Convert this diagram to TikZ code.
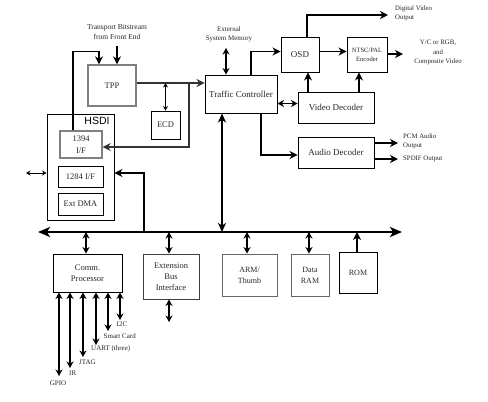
\documentclass[tikz,border=0pt]{standalone}
\usepackage{fontspec}
\setmainfont{Liberation Serif}
\newfontfamily\hsdifont{Liberation Sans}
\usetikzlibrary{arrows.meta}
\begin{document}
\begin{tikzpicture}[x=1pt,y=-1pt,
 sz/.style 2 args={minimum width=#1pt, minimum height=#2pt},
 box/.style={draw, line width=0.9pt, align=center, inner sep=0pt, text=black!85, font=\fontsize{9}{11}\selectfont},
 gbox/.style={box, draw=black!50, line width=1.3pt},
 conn/.style={line width=1.6pt, -{Stealth[length=8pt,width=8pt,inset=2.5pt]}},
 dconn/.style={line width=1.6pt, {Stealth[length=6.5pt,width=7pt,inset=2pt]}-{Stealth[length=6.5pt,width=7pt,inset=2pt]}},
 busline/.style={line width=2.4pt, {Stealth[length=12pt,width=10pt,inset=3pt]}-{Stealth[length=12pt,width=10pt,inset=3pt]}},
 thinarr/.style={line width=0.8pt, {Stealth[length=4.5pt,width=5pt]}-{Stealth[length=4.5pt,width=5pt]}},
 lbl/.style={align=center, inner sep=0pt, text=black!85, font=\fontsize{6.8}{9}\selectfont},
 slbl/.style={align=left, inner sep=0pt, text=black!85, font=\fontsize{7}{8}\selectfont},
]
\useasboundingbox (0,0) rectangle (488,402);

% ---- boxes ----
\node[gbox, sz={48}{41}, font=\fontsize{8.5}{10}\selectfont] (tpp) at (112,85.5) {TPP};
\node[box, sz={29}{28}, font=\fontsize{8.5}{10}\selectfont] (ecd) at (165.5,125) {ECD};
\node[box, sz={67}{106}] (hsdi) at (80.5,167) {};
\node[inner sep=0pt, font=\hsdifont\fontsize{10.5}{12}\selectfont] (hsdil) at (97,121) {HSDI};
\node[gbox, sz={42}{27}, font=\fontsize{8.5}{12}\selectfont] (i1394) at (81,144.5) {1394\\I/F};
\node[box, sz={45}{21}, font=\fontsize{8.5}{10}\selectfont] (i1284) at (80.5,176.5) {1284 I/F};
\node[box, sz={45}{22}, font=\fontsize{8.5}{10}\selectfont] (dma) at (80.5,204) {Ext DMA};
\node[box, sz={72}{38}] (tc) at (241,94) {Traffic Controller};
\node[box, sz={38}{35}] (osd) at (300,54.5) {OSD};
\node[box, sz={40}{35}, font=\fontsize{6.5}{9}\selectfont] (ntsc) at (367,54.5) {NTSC/PAL\\Encoder};
\node[box, sz={76}{31}] (vd) at (336,107.5) {Video Decoder};
\node[box, sz={76}{31}] (ad) at (336,152.5) {Audio Decoder};
\node[box, sz={69}{38}, font=\fontsize{8.5}{11}\selectfont] (comm) at (87.5,273) {Comm.\\Processor};
\node[box, sz={56}{45}, draw=black!75, font=\fontsize{8.5}{11}\selectfont] (eb) at (171,276.5) {Extension\\Bus\\Interface};
\node[box, sz={55}{42}, draw=black!60, font=\fontsize{8}{11}\selectfont] (arm) at (249.5,275) {ARM/\\Thumb};
\node[box, sz={38}{42}, draw=black!60, font=\fontsize{8}{11}\selectfont] (ram) at (310,275) {Data\\RAM};
\node[box, sz={38}{41}, font=\fontsize{8}{10}\selectfont] (rom) at (358,272.5) {ROM};

% ---- labels ----
\node[lbl, font=\fontsize{7.5}{10}\selectfont] (ts) at (117,32) {Transport Bitstream\\from Front End};
\node[lbl, font=\fontsize{7}{9}\selectfont] (em) at (229,34.5) {External\\System Memory};
\node[lbl, anchor=west, align=left] (dvo) at (395,13) {Digital Video\\Output};
\node[lbl, font=\fontsize{6.8}{9.5}\selectfont] (yc) at (438,52.5) {Y/C or RGB,\\and\\Composite Video};
\node[lbl, anchor=west, align=left] (pcm) at (403,141.5) {PCM Audio\\Output};
\node[lbl, anchor=west, align=left] (spdif) at (403,159) {SPDIF Output};

% ---- coordinates ----
\coordinate (busL) at (38,232);
\coordinate (busR) at (402,232);
\coordinate (br) at (189,83);
\coordinate (hl) at (26,173);
\coordinate (bj) at (144,232);
\coordinate (dvend) at (388,15);
\coordinate (ycend) at (403,54);
\coordinate (ebend) at (169,322);

% ---- connectors ----
\draw[busline] (busL) -- (busR);
\draw[conn] (ts.south |- 0,46) -- (ts.south |- tpp.north);
\draw[conn] ([xshift=-8]i1394.north) -- ++(0,-79) -| ([xshift=-13]tpp.north);
\draw[conn, draw=black!80] ([yshift=2.5]tpp.east) -- ([yshift=2.5]tpp.east -| tc.west);
\draw[conn, draw=black!80] (br) |- ([yshift=-2.5]i1394.east);
\draw[thinarr] (ecd.north |- br) -- (ecd.north);
\draw[thinarr] (hl) -- (hl -| hsdi.west);
\draw[conn] (bj) |- (hl -| hsdi.east);
\draw[dconn, line width=1.8pt, {Stealth[length=9pt,width=8pt,inset=2.5pt]}-{Stealth[length=9pt,width=8pt,inset=2.5pt]}] ([xshift=-19]tc.south) -- ([xshift=-19]tc.south |- busL);
\draw[dconn] ([xshift=-3]em.south |- 0,48) -- ([xshift=-3]em.south |- tc.north);
\draw[conn] ([xshift=10]tc.north) |- ([yshift=3]osd.west);
\draw[conn] ([xshift=7]osd.north) |- (dvend);
\draw[conn] ([yshift=3]osd.east) -- ([yshift=3]osd.east -| ntsc.west);
\draw[conn] (ntsc.east |- ycend) -- (ycend);
\draw[conn] ([xshift=-28]vd.north) -- ([xshift=-28]vd.north |- osd.south);
\draw[conn] ([xshift=23]vd.north) -- ([xshift=23]vd.north |- ntsc.south);
\draw[dconn] ([yshift=4]vd.west -| tc.east) -- ([yshift=4]vd.west);
\draw[conn] ([xshift=20]tc.south) |- ([yshift=-2.5]ad.west);
\draw[conn] ([yshift=9.5]ad.east) -- ([yshift=9.5]ad.east -| 398,0);
\draw[conn] (ad.east |- spdif.west) -- ([xshift=-5]spdif.west);

% bus to peripherals
\draw[dconn] ([xshift=-1.5]comm.north) -- ([xshift=-1.5]comm.north |- busL);
\draw[dconn] ([xshift=-2]eb.north) -- ([xshift=-2]eb.north |- busL);
\draw[dconn] (eb.south -| ebend) -- (ebend);
\draw[dconn] ([xshift=-2.5]arm.north) -- ([xshift=-2.5]arm.north |- busL);
\draw[dconn] ([xshift=-1]ram.north) -- ([xshift=-1]ram.north |- busL);
\draw[conn] ([xshift=-1]rom.north) -- ([xshift=-1]rom.north |- busL);

% comm processor signals
\coordinate (eGPIO) at (59,376);
\coordinate (eIR) at (70,368);
\coordinate (eJTAG) at (83,357);
\coordinate (eUART) at (96,345);
\coordinate (eSC) at (108,331);
\coordinate (eI2C) at (120,320);
\foreach \e in {eGPIO,eIR,eJTAG,eUART,eSC,eI2C}
  \draw[dconn, line width=1.4pt] (\e |- comm.south) -- (\e);
\node[slbl] (lGPIO) at (58,383.5) {GPIO};
\node[slbl, anchor=west] (lIR) at (69,373) {IR};
\node[slbl, anchor=west] (lJTAG) at (79,362) {JTAG};
\node[slbl, anchor=west] (lUART) at (91,349) {UART (three)};
\node[slbl, anchor=west] (lSC) at (103.5,336) {Smart Card};
\node[slbl, anchor=west] (lI2C) at (116.5,324.5) {I2C};
\end{tikzpicture}
\end{document}
